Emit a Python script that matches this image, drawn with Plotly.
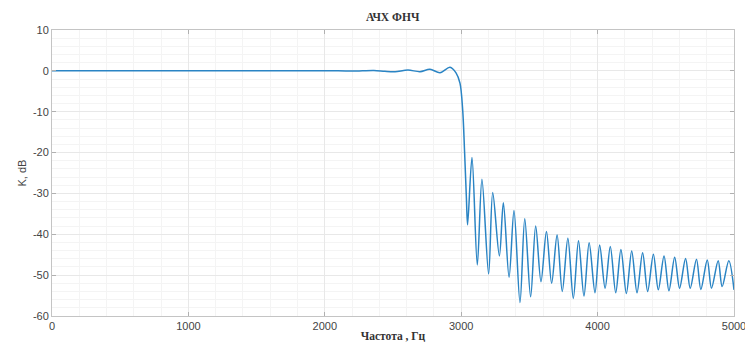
import plotly.graph_objects as go

# Passband and transition (Hz, dB)
pass_freq = [0, 500, 1000, 1500, 2000, 2200, 2360, 2440, 2515, 2610, 2698, 2771, 2845, 2918,
             2962, 2991, 3011, 3025, 3038]
pass_db = [0, 0, 0, 0, 0.05, -0.05, 0.1, -0.1, -0.2, 0.2, -0.2, 0.38, -0.45, 0.87,
           -0.5, -3.0, -9.6, -20.0, -31.0]

# Stopband lobes: nulls and peaks (Hz, dB)
null_freq = [3047, 3118, 3201, 3280, 3351, 3431, 3509, 3585, 3663, 3741, 3822, 3900, 3981,
             4055, 4133, 4211, 4289, 4367, 4445, 4523, 4601, 4679, 4757, 4835, 4913]
null_db = [-37.7, -47.5, -49.7, -45.3, -50.5, -56.7, -55.3, -51.6, -52.0, -54.0, -55.7, -55.1, -54.3,
           -53.2, -54.3, -54.5, -54.3, -54.0, -53.6, -53.8, -53.2, -53.2, -53.5, -53.2, -52.8]
peak_freq = [3079, 3152, 3231, 3309, 3387, 3466, 3546, 3625, 3703, 3782, 3860, 3938, 4015,
             4093, 4171, 4250, 4330, 4409, 4487, 4565, 4645, 4725, 4804, 4884, 4962]
peak_db = [-21.2, -26.5, -29.8, -32.3, -34.2, -36.2, -38.0, -39.3, -40.2, -41.0, -41.6, -42.1, -42.6,
           -43.0, -43.7, -44.1, -44.5, -44.9, -45.3, -45.6, -45.9, -46.1, -46.3, -46.5, -46.5]
end_freq = [5000]
end_db = [-53.6]

x_ticks = [0, 1000, 2000, 3000, 4000, 5000]
y_ticks = [-60, -50, -40, -30, -20, -10, 0, 10]
y_tick_labels = ["-60", "-50", "-40", "-30", "-20", "-10", "0", "10"]

x = list(pass_freq)
y = list(pass_db)
for nf, nd, pf, pd in zip(null_freq, null_db, peak_freq, peak_db):
    x += [nf, pf]
    y += [nd, pd]
x += end_freq
y += end_db

fig = go.Figure()
fig.add_trace(go.Scatter(x=x, y=y, mode="lines",
                         line=dict(color="#2a84c4", width=1.5, shape="spline", smoothing=0.9),
                         hoverinfo="skip"))

axis_common = dict(
    showline=True, linecolor="#c4c4c4", linewidth=1, mirror="allticks",
    ticks="inside", ticklen=4, tickcolor="#b0b0b0",
    showgrid=True, gridcolor="#e8e8e8", gridwidth=1, zeroline=False,
    automargin=False, ticklabeloverflow="allow",
    tickfont=dict(family="Liberation Sans, Arial", size=11, color="#444444"),
)

fig.update_layout(
    width=745, height=343,
    margin=dict(l=52, r=11, t=30, b=27),
    paper_bgcolor="white", plot_bgcolor="white",
    showlegend=False,
    title=dict(text="<b>АЧХ ФНЧ</b>", x=0.527, xanchor="center", y=0.95, yanchor="middle",
               font=dict(family="Liberation Serif, Times New Roman", size=11.5, color="#333333")),
    xaxis=dict(range=[0, 5000], tickvals=x_ticks,
               minor=dict(dtick=200, showgrid=True, gridcolor="#f4f4f4", ticks=""),
               title=dict(text="<b>Частота , Гц</b>", standoff=0,
                          font=dict(family="Liberation Serif, Times New Roman", size=11.5, color="#333333")),
               **axis_common),
    yaxis=dict(range=[-60, 10], tickvals=y_ticks, ticktext=y_tick_labels,
               minor=dict(dtick=2, showgrid=True, gridcolor="#f4f4f4", ticks=""),
               title=dict(text="K, dB", standoff=4,
                          font=dict(family="Liberation Sans, Arial", size=11, color="#444444")),
               **axis_common),
)

fig.write_html("out.html")
